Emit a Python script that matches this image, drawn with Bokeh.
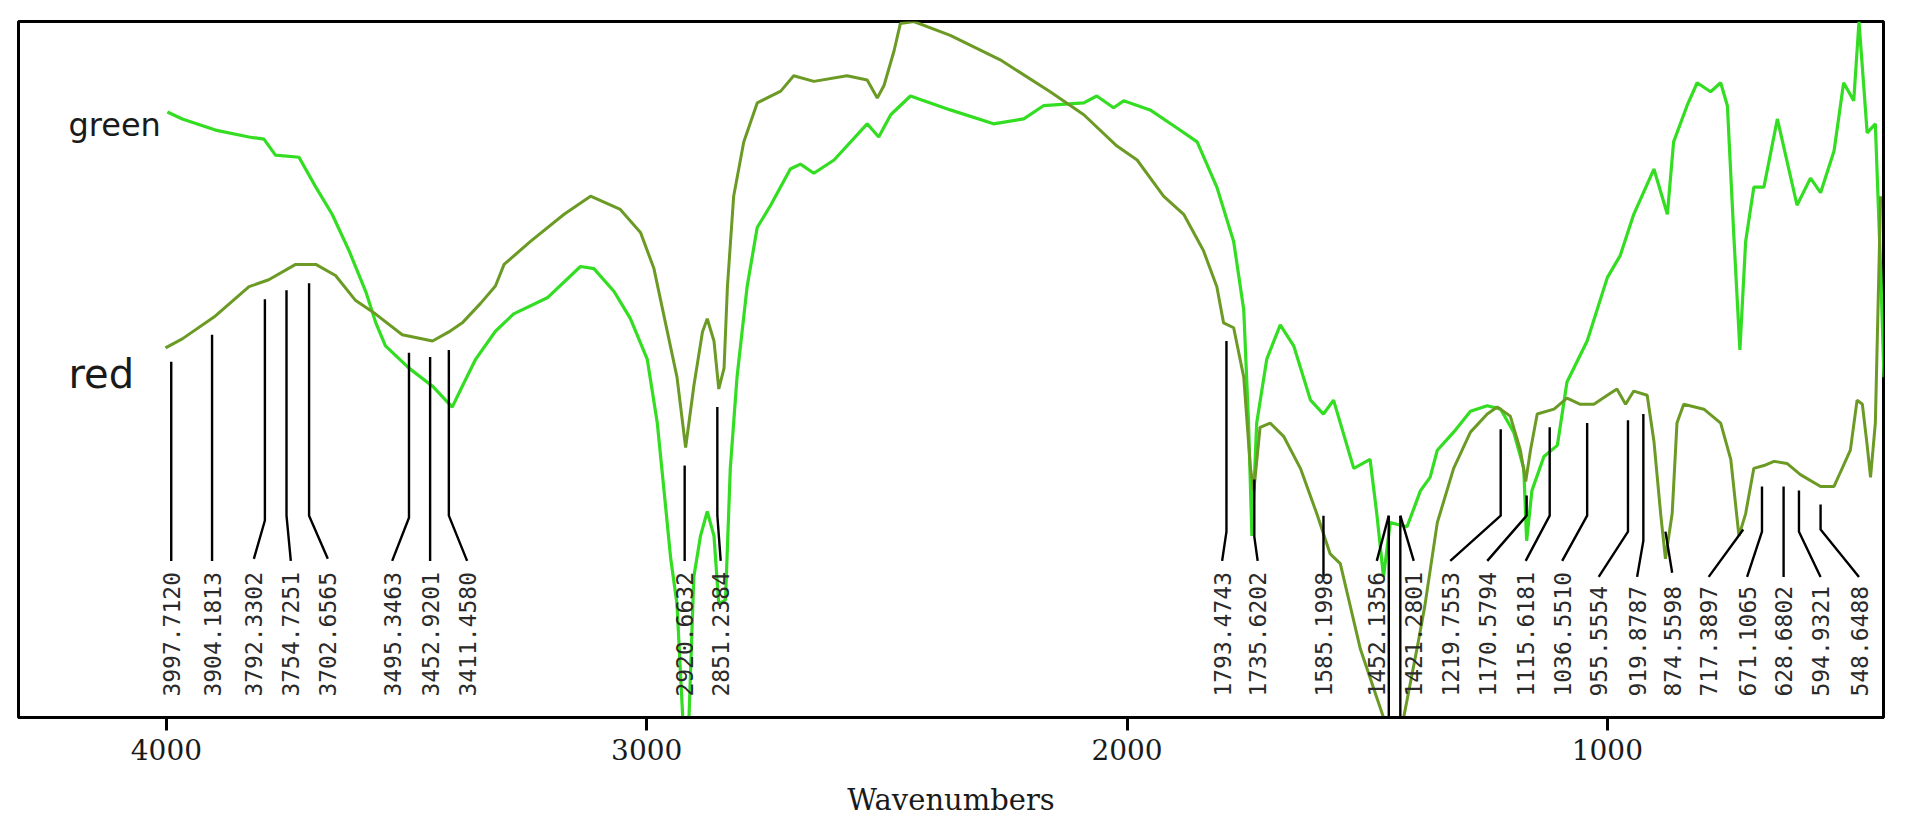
import math
from bokeh.plotting import figure
from bokeh.models import Range1d, FixedTicker, Arrow
from bokeh.embed import file_html
from bokeh.resources import INLINE
from bokeh.core.properties import value

# ---- spectra (wavenumber, relative transmittance) ----
green_wn = [3998, 3967, 3898, 3828, 3797, 3773, 3724, 3689, 3655, 3620, 3585, 3564, 3544, 3495,
            3446, 3405, 3384, 3356, 3315, 3277, 3207, 3138, 3110, 3068, 3034, 2999, 2978, 2964,
            2950, 2937, 2925, 2912, 2902, 2888, 2874, 2860, 2850, 2836, 2826, 2812, 2791, 2770,
            2742, 2701, 2680, 2652, 2610, 2541, 2517, 2492, 2451, 2368, 2278, 2215, 2174, 2090,
            2063, 2028, 2007, 1952, 1896, 1854, 1813, 1778, 1757, 1747, 1740, 1730, 1709, 1681,
            1653, 1618, 1591, 1570, 1528, 1494, 1480, 1466, 1452, 1417, 1389, 1369, 1354, 1320,
            1285, 1250, 1222, 1195, 1174, 1168, 1157, 1132, 1104, 1084, 1042, 1000, 973, 945,
            903, 875, 862, 834, 813, 785, 764, 750, 737, 724, 712, 695, 674, 646, 605, 577, 556,
            528, 508, 487, 476, 459, 442, 431, 424]
green_t = [87.0, 86.0, 84.4, 83.4, 83.1, 80.8, 80.5, 76.2, 72.3, 67.1, 61.2, 56.7, 53.4, 50.2,
           47.6, 44.6, 47.6, 51.5, 55.5, 58.0, 60.3, 64.8, 64.5, 61.2, 57.3, 51.5, 42.3, 32.6,
           22.8, 16.3, 0.0, 0.0, 20.2, 26.1, 29.6, 26.1, 16.3, 16.9, 35.8, 48.9, 61.9, 70.4,
           73.6, 78.8, 79.5, 78.2, 80.1, 85.3, 83.4, 86.6, 89.3, 87.3, 85.3, 86.0, 87.9, 88.3,
           89.3, 87.6, 88.6, 87.3, 84.7, 82.7, 76.2, 68.4, 58.6, 42.3, 26.1, 42.3, 51.5, 56.4,
           53.4, 45.6, 43.6, 45.6, 35.8, 37.1, 29.3, 20.2, 28.0, 27.4, 32.6, 34.5, 38.4, 41.0,
           44.0, 44.8, 44.3, 41.0, 35.8, 25.4, 32.6, 37.5, 39.1, 48.2, 54.1, 63.2, 66.4, 72.3,
           78.8, 72.3, 82.7, 87.9, 91.2, 89.9, 91.2, 87.9, 69.7, 52.8, 68.4, 76.2, 76.2, 86.0,
           73.6, 77.5, 75.4, 81.4, 91.2, 88.6, 100.0, 84.0, 85.3, 64.5, 48.9]

red_wn = [4002, 3967, 3898, 3828, 3787, 3731, 3689, 3648, 3606, 3565, 3509, 3446, 3412, 3384,
          3346, 3315, 3297, 3242, 3172, 3117, 3055, 3013, 2985, 2957, 2937, 2919, 2902, 2884,
          2874, 2860, 2850, 2839, 2832, 2819, 2798, 2770, 2721, 2694, 2652, 2583, 2541, 2520,
          2506, 2485, 2472, 2444, 2368, 2264, 2160, 2090, 2021, 1979, 1924, 1882, 1841, 1813,
          1799, 1778, 1757, 1743, 1736, 1723, 1702, 1674, 1639, 1605, 1577, 1556, 1514, 1466,
          1424, 1396, 1380, 1354, 1320, 1285, 1250, 1229, 1202, 1181, 1170, 1160, 1146, 1111,
          1084, 1056, 1028, 1000, 980, 962, 945, 917, 903, 889, 879, 865, 855, 841, 799, 764,
          743, 726, 712, 695, 674, 653, 626, 598, 556, 528, 515, 494, 480, 469, 459, 452, 442,
          431]
red_t = [53.1, 54.4, 57.7, 61.9, 62.9, 65.1, 65.1, 63.5, 59.9, 58.0, 55.0, 54.1, 55.4, 56.7,
         59.5, 62.0, 65.1, 68.4, 72.3, 74.9, 73.0, 69.7, 64.5, 55.4, 48.9, 38.8, 47.6, 55.4,
         57.3, 54.1, 47.2, 50.2, 61.9, 74.9, 82.7, 88.3, 90.0, 92.2, 91.4, 92.2, 91.6, 89.0,
         90.8, 95.8, 99.7, 100.0, 98.0, 94.5, 89.9, 86.6, 82.1, 80.1, 74.9, 72.3, 67.1, 61.9,
         56.7, 56.0, 48.9, 35.8, 32.6, 41.7, 42.3, 40.4, 35.8, 29.3, 23.5, 22.1, 9.8, 0.0,
         0.0, 10.0, 16.0, 28.0, 35.8, 41.0, 43.6, 44.6, 43.3, 38.4, 33.9, 38.4, 43.6, 44.3,
         45.9, 45.0, 45.0, 46.3, 47.2, 45.0, 46.9, 46.3, 39.7, 29.3, 22.8, 29.3, 42.3, 45.0,
         44.3, 42.3, 37.1, 26.1, 29.3, 35.8, 36.2, 36.8, 36.5, 34.9, 33.2, 33.2, 35.2, 38.4,
         45.6, 45.0, 39.1, 34.5, 42.3, 74.9]

# ---- peak annotations ----
peak_labels = ["3997.7120", "3904.1813", "3792.3302", "3754.7251", "3702.6565", "3495.3463",
               "3452.9201", "3411.4580", "2920.6632", "2851.2384", "1793.4743", "1735.6202",
               "1585.1998", "1452.1356", "1421.2801", "1219.7553", "1170.5794", "1115.6181",
               "1036.5510", "955.5554", "919.8787", "874.5598", "717.3897", "671.1065",
               "628.6802", "594.9321", "548.6488"]
peak_line_x = [3990, 3905, 3795, 3750, 3703, 3495, 3451, 3412, 2921, 2853, 1793, 1735, 1591,
               1455, 1431, 1222, 1168, 1120, 1042, 957, 925, 879, 717, 678, 633, 601, 556]
peak_line_top = [51.1, 55.0, 60.1, 61.4, 62.4, 52.4, 51.8, 52.8, 36.2, 44.6, 54.1, 34.2, 29.0,
                 29.0, 29.0, 41.4, 31.9, 41.7, 42.3, 42.7, 43.6, 26.7, 27.0, 33.2, 33.2, 32.6, 30.6]
peak_line_bend = [22.5, 22.5, 28.3, 29.0, 29.0, 28.7, 22.5, 29.0, 22.5, 29.0, 26.7, 26.0, 19.9,
                  29.0, 29.0, 29.0, 29.0, 29.0, 29.0, 26.7, 25.4, 26.7, 27.0, 26.7, 20.2, 26.7, 27.0]
peak_text_x = [3990, 3905, 3818, 3741, 3664, 3530, 3451, 3374, 2921, 2846, 1802, 1728, 1591,
               1480, 1403, 1327, 1250, 1170, 1094, 1018, 938, 865, 789, 709, 633, 556, 476]
peak_text_join = [22.5, 22.5, 22.8, 22.5, 22.8, 22.5, 22.5, 22.5, 22.5, 22.5, 22.5, 22.5, 19.9,
                  22.5, 22.5, 22.5, 22.5, 22.5, 22.5, 20.2, 20.2, 20.8, 20.2, 20.2, 20.2, 20.2, 20.2]
peak_text_base = 3.0
drop_x = [1455, 1431]
drop_top = [29.0, 29.0]
drop_bottom = [-2.4, -2.4]

tick_values = [4000, 3000, 2000, 1000]
series_names = ["green", "red"]
series_name_x = [4204, 4204]
series_name_y = [85.1, 49.4]
series_name_size = ["32px", "40px"]

GREEN = "#33dd22"
OLIVE = "#6b9a25"

p = figure(width=1904, height=820, x_range=Range1d(4308, 425), y_range=Range1d(0, 100),
           output_backend="svg", toolbar_location=None,
           min_border_left=18, min_border_right=21, min_border_top=21, min_border_bottom=103)
p.background_fill_color = "white"
p.border_fill_color = "white"
p.outline_line_color = "black"
p.outline_line_width = 3
p.grid.visible = False
p.yaxis.visible = False

xa = p.xaxis[0]
xa.ticker = FixedTicker(ticks=tick_values)
xa.minor_tick_line_color = None
xa.major_tick_out = 13
xa.major_tick_in = 0
xa.major_tick_line_width = 3
xa.axis_line_width = 3
xa.major_label_text_font = "DejaVu Serif"
xa.major_label_text_font_size = "28px"
xa.major_label_text_color = "#1a1a1a"
xa.major_label_standoff = 8
xa.axis_label = "Wavenumbers"
xa.axis_label_text_font = "DejaVu Serif"
xa.axis_label_text_font_size = "29px"
xa.axis_label_text_font_style = "normal"
xa.axis_label_text_color = "#1a1a1a"
xa.axis_label_standoff = 20

# spectra
p.line(green_wn, green_t, line_color=GREEN, line_width=3.2)
p.line(red_wn, red_t, line_color=OLIVE, line_width=3)

# leader lines
xs, ys = [], []
for lx, top, bend, tx, ty in zip(peak_line_x, peak_line_top, peak_line_bend, peak_text_x, peak_text_join):
    xs.append([lx, lx, tx])
    ys.append([top, bend, ty])
p.multi_line(xs, ys, line_color="black", line_width=2.4)

for dx, dt, db in zip(drop_x, drop_top, drop_bottom):
    p.add_layout(Arrow(end=None, x_start=dx, y_start=dt, x_end=dx, y_end=db,
                       line_color="black", line_width=2.4))

# rotated peak labels
p.text(x=peak_text_x, y=[peak_text_base] * len(peak_text_x), text=peak_labels,
       angle=math.pi / 2, text_align="left", text_baseline="alphabetic",
       text_font=value("DejaVu Sans Mono"), text_font_size="23px", text_color="#2a2a2a")

# series names
p.text(x=series_name_x, y=series_name_y, text=series_names, text_align="left",
       text_baseline="alphabetic", text_font=value("DejaVu Sans"),
       text_font_size=series_name_size, text_color="#1a1a1a")

open("out.html", "w").write(file_html(p, INLINE))
